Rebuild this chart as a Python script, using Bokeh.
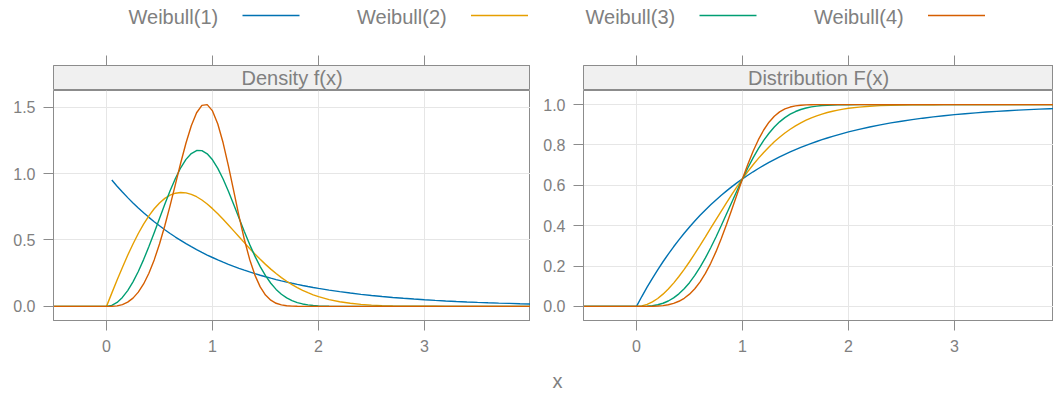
from bokeh.plotting import figure
from bokeh.models import Range1d, FixedTicker, PrintfTickFormatter, Label
from bokeh.layouts import column, row
from bokeh.embed import file_html
from bokeh.resources import INLINE
from bokeh.core.properties import value

NAN = float("nan")

# ---------------- data ----------------
x = [-0.5, 0.0,
     0.05, 0.10, 0.15, 0.20, 0.25, 0.30, 0.35, 0.40, 0.45, 0.50,
     0.55, 0.60, 0.65, 0.70, 0.75, 0.80, 0.85, 0.90, 0.95, 1.00,
     1.05, 1.10, 1.15, 1.20, 1.25, 1.30, 1.35, 1.40, 1.45, 1.50,
     1.55, 1.60, 1.65, 1.70, 1.75, 1.80, 1.85, 1.90, 1.95, 2.00,
     2.1, 2.2, 2.3, 2.4, 2.5, 2.6, 2.7, 2.8, 2.9, 3.0,
     3.1, 3.2, 3.3, 3.4, 3.5, 3.6, 3.7, 3.8, 3.9, 4.0]

dens_w1 = [NAN, NAN,
           0.9512, 0.9048, 0.8607, 0.8187, 0.7788, 0.7408, 0.7047, 0.6703, 0.6376, 0.6065,
           0.5769, 0.5488, 0.5220, 0.4966, 0.4724, 0.4493, 0.4274, 0.4066, 0.3867, 0.3679,
           0.3499, 0.3329, 0.3166, 0.3012, 0.2865, 0.2725, 0.2592, 0.2466, 0.2346, 0.2231,
           0.2122, 0.2019, 0.1920, 0.1827, 0.1738, 0.1653, 0.1572, 0.1496, 0.1423, 0.1353,
           0.1225, 0.1108, 0.1003, 0.0907, 0.0821, 0.0743, 0.0672, 0.0608, 0.0550, 0.0498,
           0.0450, 0.0408, 0.0369, 0.0334, 0.0302, 0.0273, 0.0247, 0.0224, 0.0202, 0.0183]

dens_w2 = [0.0, 0.0,
           0.0998, 0.1980, 0.2933, 0.3843, 0.4697, 0.5484, 0.6193, 0.6817, 0.7350, 0.7788,
           0.8129, 0.8372, 0.8520, 0.8577, 0.8547, 0.8437, 0.8254, 0.8007, 0.7705, 0.7358,
           0.6973, 0.6560, 0.6129, 0.5686, 0.5240, 0.4798, 0.4364, 0.3944, 0.3542, 0.3162,
           0.2805, 0.2474, 0.2168, 0.1890, 0.1637, 0.1410, 0.1207, 0.1028, 0.0870, 0.0733,
           0.0511, 0.0348, 0.0232, 0.0151, 0.0097, 0.0060, 0.0037, 0.0022, 0.0013, 0.0007,
           0.0004, 0.0002, 0.0001, 0.0001, 0.0, 0.0, 0.0, 0.0, 0.0, 0.0]

dens_w3 = [0.0, 0.0,
           0.0075, 0.0300, 0.0673, 0.1190, 0.1846, 0.2628, 0.3521, 0.4502, 0.5546, 0.6619,
           0.7684, 0.8702, 0.9631, 1.0432, 1.1067, 1.1507, 1.1729, 1.1722, 1.1487, 1.1036,
           1.0393, 0.9591, 0.8670, 0.7674, 0.6648, 0.5635, 0.4669, 0.3781, 0.2991, 0.2310,
           0.1740, 0.1278, 0.0915, 0.0637, 0.0432, 0.0285, 0.0183, 0.0114, 0.0069, 0.0040,
           0.0013, 0.0003, 0.0001, 0.0, 0.0, 0.0, 0.0, 0.0, 0.0, 0.0,
           0.0, 0.0, 0.0, 0.0, 0.0, 0.0, 0.0, 0.0, 0.0, 0.0]

dens_w4 = [0.0, 0.0,
           0.0005, 0.0040, 0.0135, 0.0319, 0.0623, 0.1071, 0.1689, 0.2495, 0.3499, 0.4697,
           0.6073, 0.7590, 0.9189, 1.0792, 1.2298, 1.3597, 1.4575, 1.5130, 1.5188, 1.4715,
           1.3732, 1.2314, 1.0582, 0.8691, 0.6800, 0.5052, 0.3553, 0.2355, 0.1467, 0.0855,
           0.0464, 0.0233, 0.0109, 0.0046, 0.0018, 0.0006, 0.0002, 0.0001, 0.0, 0.0,
           0.0, 0.0, 0.0, 0.0, 0.0, 0.0, 0.0, 0.0, 0.0, 0.0,
           0.0, 0.0, 0.0, 0.0, 0.0, 0.0, 0.0, 0.0, 0.0, 0.0]

cdf_w1 = [0.0, 0.0,
          0.0488, 0.0952, 0.1393, 0.1813, 0.2212, 0.2592, 0.2953, 0.3297, 0.3624, 0.3935,
          0.4231, 0.4512, 0.4780, 0.5034, 0.5276, 0.5507, 0.5726, 0.5934, 0.6133, 0.6321,
          0.6501, 0.6671, 0.6834, 0.6988, 0.7135, 0.7275, 0.7408, 0.7534, 0.7654, 0.7769,
          0.7878, 0.7981, 0.8080, 0.8173, 0.8262, 0.8347, 0.8428, 0.8504, 0.8577, 0.8647,
          0.8775, 0.8892, 0.8997, 0.9093, 0.9179, 0.9257, 0.9328, 0.9392, 0.9450, 0.9502,
          0.9550, 0.9592, 0.9631, 0.9666, 0.9698, 0.9727, 0.9753, 0.9776, 0.9798, 0.9817]

cdf_w2 = [0.0, 0.0,
          0.0025, 0.0100, 0.0223, 0.0392, 0.0606, 0.0861, 0.1153, 0.1479, 0.1833, 0.2212,
          0.2610, 0.3023, 0.3446, 0.3874, 0.4302, 0.4727, 0.5145, 0.5551, 0.5945, 0.6321,
          0.6679, 0.7018, 0.7335, 0.7631, 0.7904, 0.8155, 0.8384, 0.8591, 0.8779, 0.8946,
          0.9095, 0.9227, 0.9343, 0.9444, 0.9532, 0.9608, 0.9674, 0.9730, 0.9777, 0.9817,
          0.9878, 0.9921, 0.9950, 0.9968, 0.9981, 0.9988, 0.9993, 0.9996, 0.9998, 0.9999,
          1.0, 1.0, 1.0, 1.0, 1.0, 1.0, 1.0, 1.0, 1.0, 1.0]

cdf_w3 = [0.0, 0.0,
          0.0001, 0.0010, 0.0034, 0.0080, 0.0155, 0.0266, 0.0420, 0.0620, 0.0871, 0.1175,
          0.1533, 0.1943, 0.2401, 0.2904, 0.3442, 0.4007, 0.4589, 0.5176, 0.5757, 0.6321,
          0.6858, 0.7358, 0.7815, 0.8224, 0.8582, 0.8889, 0.9146, 0.9357, 0.9526, 0.9658,
          0.9759, 0.9834, 0.9888, 0.9927, 0.9953, 0.9971, 0.9982, 0.9990, 0.9994, 0.9997,
          0.9999, 1.0, 1.0, 1.0, 1.0, 1.0, 1.0, 1.0, 1.0, 1.0,
          1.0, 1.0, 1.0, 1.0, 1.0, 1.0, 1.0, 1.0, 1.0, 1.0]

cdf_w4 = [0.0, 0.0,
          0.0000, 0.0001, 0.0005, 0.0016, 0.0039, 0.0081, 0.0149, 0.0253, 0.0402, 0.0606,
          0.0874, 0.1216, 0.1635, 0.2134, 0.2712, 0.3361, 0.4067, 0.4811, 0.5571, 0.6321,
          0.7034, 0.7687, 0.8261, 0.8743, 0.9130, 0.9425, 0.9639, 0.9785, 0.9880, 0.9937,
          0.9969, 0.9986, 0.9994, 0.9998, 0.9999, 1.0, 1.0, 1.0, 1.0, 1.0,
          1.0, 1.0, 1.0, 1.0, 1.0, 1.0, 1.0, 1.0, 1.0, 1.0,
          1.0, 1.0, 1.0, 1.0, 1.0, 1.0, 1.0, 1.0, 1.0, 1.0]

series_names = ["Weibull(1)", "Weibull(2)", "Weibull(3)", "Weibull(4)"]
series_colors = ["#0072B2", "#E69F00", "#009E73", "#D55E00"]
panel_titles = ["Density f(x)", "Distribution F(x)"]
x_ticks = [0, 1, 2, 3, 4]
dens_ticks = [0.0, 0.5, 1.0, 1.5]
cdf_ticks = [0.0, 0.2, 0.4, 0.6, 0.8, 1.0]
x_label = "x"

for s in (dens_w1, dens_w2, dens_w3, dens_w4, cdf_w1, cdf_w2, cdf_w3, cdf_w4):
    assert len(s) == len(x)

# ---------------- style ----------------
FONT = "Liberation Sans"
TXT = "#808080"
LINE = "#8C8C8C"
GRID = "#E6E6E6"
STRIP = "#F0F0F0"
TICK_FS = "16px"
BIG_FS = "20px"

X_LO = -0.5
X_HI = 4.0
BORDER_L = 53
BORDER_R_PANEL = 53
FRAME_W_L = 477
FRAME_W_R = 470
PX_PER_UNIT = FRAME_W_L / (X_HI - X_LO)
X_HI_R = X_LO + FRAME_W_R / PX_PER_UNIT
LEG_H = 55
BOT_H = 33


def padded(lo, hi, f=0.07):
    d = (hi - lo) * f
    return lo - d, hi + d


def style_axis(ax, ticks):
    ax.ticker = FixedTicker(ticks=ticks)
    ax.axis_line_color = LINE
    ax.major_tick_line_color = LINE
    ax.major_tick_out = 10
    ax.major_tick_in = 0
    ax.minor_tick_line_color = None
    ax.major_label_text_color = TXT
    ax.major_label_text_font = FONT
    ax.major_label_text_font_size = TICK_FS


def make_panel(series, y_ticks, x_hi, frame_w, border_left, title, yfmt):
    xr = Range1d(X_LO, x_hi)
    strip = figure(width=border_left + frame_w, height=35, x_range=xr,
                   y_range=Range1d(0, 1), min_border_left=border_left,
                   min_border_right=0, min_border_top=10, min_border_bottom=0,
                   toolbar_location=None, output_backend="svg",
                   x_axis_location="above", y_axis_location=None)
    style_axis(strip.xaxis[0], x_ticks)
    strip.xaxis[0].major_label_text_font_size = "0px"
    strip.xaxis[0].major_label_standoff = 0
    strip.xaxis[0].major_label_overrides = {t: "" for t in x_ticks}
    strip.grid.visible = False
    strip.background_fill_color = STRIP
    strip.outline_line_color = LINE
    strip.add_layout(Label(x=(X_LO + x_hi) / 2, y=0.5, text=title,
                           text_align="center", text_baseline="middle",
                           text_font=FONT, text_font_size=BIG_FS,
                           text_color=TXT))

    all_vals = [v for s in series for v in s if v == v]
    y_lo, y_hi = padded(min(all_vals), max(all_vals))
    p = figure(width=border_left + frame_w, height=270, x_range=xr,
               y_range=Range1d(y_lo, y_hi), min_border_left=border_left,
               min_border_right=0, min_border_top=0, min_border_bottom=40,
               toolbar_location=None, output_backend="svg")
    for ys, c in zip(series, series_colors):
        p.line(x, ys, line_color=c, line_width=1.4)
    style_axis(p.xaxis[0], x_ticks)
    p.xaxis[0].major_label_standoff = 9
    p.xaxis[0].major_label_overrides = {4: ""}
    style_axis(p.yaxis[0], y_ticks)
    p.yaxis[0].major_label_standoff = 8
    p.yaxis[0].formatter = PrintfTickFormatter(format=yfmt)
    p.xgrid.grid_line_color = GRID
    p.ygrid.grid_line_color = GRID
    p.outline_line_color = LINE
    return column(strip, p)


left = make_panel([dens_w1, dens_w2, dens_w3, dens_w4], dens_ticks, X_HI,
                  FRAME_W_L, BORDER_L, panel_titles[0], "%.1f")
right = make_panel([cdf_w1, cdf_w2, cdf_w3, cdf_w4], cdf_ticks, X_HI_R,
                   FRAME_W_R, BORDER_R_PANEL, panel_titles[1], "%.1f")

TOTAL_W = BORDER_L + FRAME_W_L + BORDER_R_PANEL + FRAME_W_R

# legend (label then line, as in the reference)
leg = figure(width=TOTAL_W, height=LEG_H, x_range=Range1d(0, TOTAL_W),
             y_range=Range1d(0, LEG_H), min_border=0, toolbar_location=None,
             output_backend="svg", x_axis_location=None, y_axis_location=None)
leg.grid.visible = False
leg.outline_line_color = None
for i, (name, c) in enumerate(zip(series_names, series_colors)):
    tx = 128 + i * 228.5
    leg.text(x=[tx], y=[LEG_H - 16], text=[name], text_font=value(FONT),
             text_font_size=BIG_FS, text_color=TXT, text_align="left",
             text_baseline="middle")
    leg.segment(x0=[tx + 114], x1=[tx + 171], y0=[LEG_H - 15], y1=[LEG_H - 15],
                line_color=c, line_width=1.4)

# shared x label
bot = figure(width=TOTAL_W, height=BOT_H, x_range=Range1d(0, TOTAL_W),
             y_range=Range1d(0, BOT_H), min_border=0, toolbar_location=None,
             output_backend="svg", x_axis_location=None, y_axis_location=None)
bot.grid.visible = False
bot.outline_line_color = None
bot.text(x=[557], y=[BOT_H - 20], text=[x_label],
         text_font=value(FONT), text_font_size=BIG_FS, text_color=TXT,
         text_align="center", text_baseline="middle")

page = column(leg, row(left, right), bot)
open("out.html", "w").write(file_html(page, INLINE))
